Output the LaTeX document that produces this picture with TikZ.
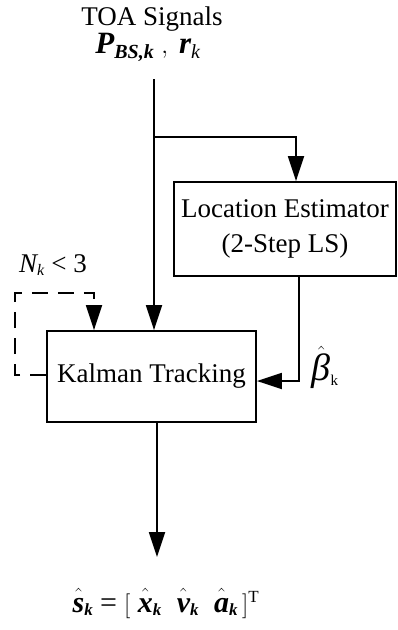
\documentclass[tikz,border=0pt]{standalone}
\usepackage{amsmath}
\usepackage{fontspec}
\setmainfont{Liberation Serif}
\usetikzlibrary{arrows.meta}
\DeclareMathSizes{27}{27}{16}{12}
\DeclareMathSizes{31}{31}{20}{14}
\DeclareMathSizes{30}{30}{17}{12}
\DeclareMathSizes{38}{38}{20}{14}
\newcommand{\bitx}[1]{\text{\bfseries\itshape #1}}
\newcommand{\hb}[1]{\hat{\bitx{#1}\vphantom{\bitx{t}}}}
\begin{document}
\begin{tikzpicture}[x=1pt,y=-1pt,
  font=\fontsize{27}{35}\selectfont,
  line width=1.8pt,
  box/.style={draw, rectangle, inner sep=0pt, align=center},
  arr/.style={-{Triangle[length=25pt,width=16pt]}},
  dashline/.style={dash pattern=on 16pt off 10pt},
  lbl/.style={inner sep=0pt, anchor=base}]
\useasboundingbox (0,0) rectangle (398,630);

\node[box, minimum width=222pt, minimum height=94pt] (loc) at (285,229) {Location Estimator\\(2-Step LS)};
\node[box, minimum width=209pt, minimum height=91pt] (kal) at (151.5,376.5) {Kalman Tracking};

\coordinate (top) at (154,79);
\coordinate (br) at (154,137);
\coordinate (brx) at (296,137);
\coordinate (lx) at (299,381);
\coordinate (bx) at (157,557);
\coordinate (d1) at (15,375);
\coordinate (d2) at (94,293);

\draw[arr] (top) -- (top |- kal.north);
\draw[arr] (br) -- (brx) -- (loc.north -| brx);
\draw[arr] (loc.south -| lx) -- (lx) -- (kal.east |- lx);
\draw[arr] (kal.south -| bx) -- (bx);
\draw[arr, dashline] (kal.west |- d1) -- (d1) |- (d2) -- (d2 |- kal.north);

\node[lbl] (toa) at (152,25) {TOA Signals};
\node[lbl, font=\fontsize{31}{36}\selectfont] (sig) at (148,53) {$\bitx{P}_{\bitx{BS,k}}\;,\;\bitx{r}_{\text{\itshape k}}$};
\node[lbl] (nk) at (53,272) {$\text{\itshape N}_{\text{\itshape k}}$ < 3};
\node[lbl] (beta) at (325,380) {{\fontsize{38}{40}\selectfont$\hat{\text{\itshape β}}$}\raisebox{-5pt}{\fontsize{15}{18}\selectfont k}};
\node[lbl, font=\fontsize{30}{36}\selectfont] (out) at (166,612) {$\hb{s}_{\bitx{k}} \mathrel{\text{=}} [\ \hb{x}_{\bitx{k}}\ \ \hb{v}_{\bitx{k}}\ \ \hb{a}_{\bitx{k}}\,]^{\text{T}}$};
\end{tikzpicture}
\end{document}
